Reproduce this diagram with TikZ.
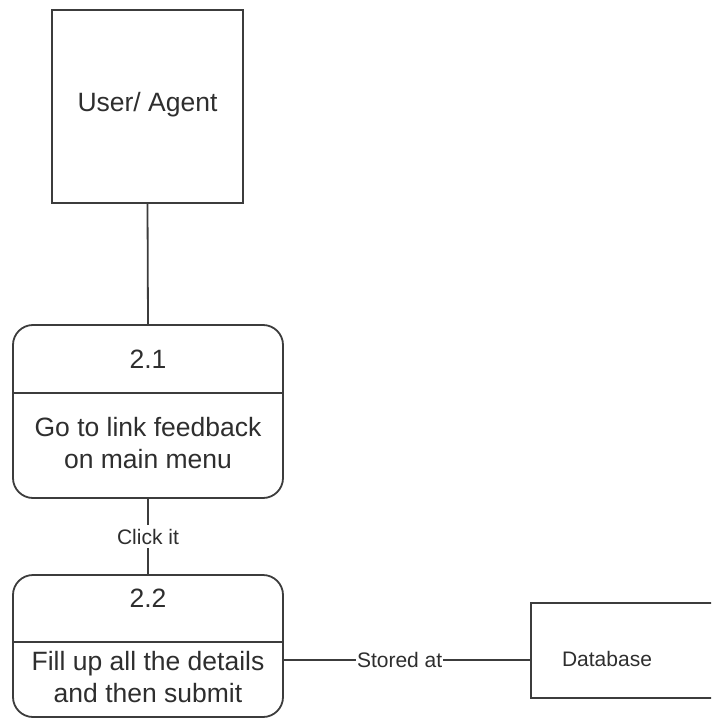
\documentclass[tikz,border=0pt]{standalone}
\usepackage{fontspec}
\setmainfont{Liberation Sans}
\begin{document}
\begin{tikzpicture}[x=1pt,y=-1pt,
  line/.style={draw=linegray,line width=1.8pt},
  entity/.style={line,rectangle,inner sep=0pt},
  process/.style={line,rectangle,rounded corners=20pt,inner sep=0pt,minimum width=270pt},
  big/.style={text=textgray,font=\fontsize{26.5}{32}\selectfont,align=center,inner sep=0pt},
  small/.style={text=textgray,font=\fontsize{21}{25}\selectfont,inner sep=0pt},
  flowlabel/.style={small,fill=white,inner xsep=2pt,inner ysep=4pt},
  sidelabel/.style={small,fill=white,inner xsep=0.6pt,inner ysep=4pt}]
\definecolor{linegray}{HTML}{3C3C3C}
\definecolor{textgray}{HTML}{2E2E2E}
\useasboundingbox (0,0) rectangle (711,719);
\clip (0,0) rectangle (711,719);

% external entity
\node[entity,minimum width=191pt,minimum height=193pt] (user) at (147.5,106.5) {};
\node[big] (usertext) at (147.5,105) {User/ Agent};

% process 2.1
\node[process,minimum height=173pt] (p21) at (148,411.5) {};
\draw[line] (p21.west |- 0,393) -- (p21.east |- 0,393);
\node[big] (p21id) at (148,359) {2.1};
\node[big] (p21txt) at (148,443) {Go to link feedback\\on main menu};

% process 2.2
\node[process,minimum height=142pt] (p22) at (148,646) {};
\draw[line] (p22.west |- 0,642) -- (p22.east |- 0,642);
\node[big] (p22id) at (148,598) {2.2};
\node[big] (p22txt) at (148,677.5) {Fill up all the details\\and then submit};

% data store
\node[entity,minimum width=240pt,minimum height=95pt] (db) at (651,650.5) {};
\node[small] (dbtext) at (607,659) {Database};

% data flows
\draw[line] (user.south) -- (p21.north);
\draw[line] (p21.south) -- node[flowlabel] {Click it} (p22.north);
\coordinate (flow) at (0,660);
\draw[line] (p22.east |- flow) -- node[sidelabel,pos=0.47] {Stored at} (db.west |- flow);
\end{tikzpicture}
\end{document}
